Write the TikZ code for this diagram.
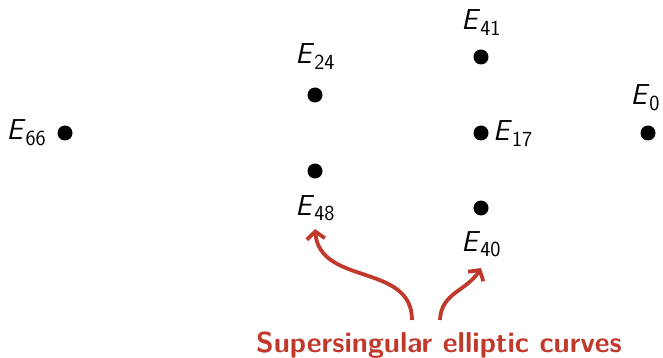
\documentclass[tikz,border=0pt]{standalone}
\usetikzlibrary{arrows.meta}
\definecolor{alertred}{RGB}{192,57,43}
% curve name: sans oblique letter with a lowered index
\newcommand\curvename[2]{\textit{#1}\raisebox{-0.19em}{\fontsize{21.5}{21.5}\selectfont #2}}
\tikzset{
  vertex/.style={circle, fill=black, inner sep=0pt, minimum size=15pt},
  curvelbl/.style={inner sep=0pt, font=\fontsize{28.8}{34}\selectfont\sffamily},
  alertline/.style={draw=alertred, line width=3.8pt,
    -{Straight Barb[length=7.5pt, width=18pt]}},
}
\begin{document}
\begin{tikzpicture}[x=1pt, y=-1pt]
  \useasboundingbox (0,0) rectangle (663,358);

  % vertices
  \node[vertex] (e66) at (65,133) {};
  \node[vertex] (e24) at (315,95) {};
  \node[vertex] (e48) at (315,171) {};
  \node[vertex] (e41) at (481,57) {};
  \node[vertex] (e17) at (481,133) {};
  \node[vertex] (e40) at (481,208) {};
  \node[vertex] (e0)  at (648,133) {};

  % vertex names
  \node[curvelbl, anchor=base east] (l66) at (46,140) {\curvename{E}{66}};
  \node[curvelbl, anchor=base]      (l24) at (315,64) {\curvename{E}{24}};
  \node[curvelbl, anchor=base]      (l48) at (315,215) {\curvename{E}{48}};
  \node[curvelbl, anchor=base]      (l41) at (481,30) {\curvename{E}{41}};
  \node[curvelbl, anchor=base west] (l17) at (493,141) {\curvename{E}{17}};
  \node[curvelbl, anchor=base]      (l40) at (481,251) {\curvename{E}{40}};
  \node[curvelbl, anchor=base]      (l0)  at (645,105) {\curvename{E}{0}};

  % caption and pointers
  \node[curvelbl, font=\fontsize{28.8}{34}\selectfont\sffamily\bfseries,
        text=alertred, anchor=base] (caption) at (439,352)
        {Supersingular elliptic curves};
  \coordinate (s1) at (412,320);
  \coordinate (s2) at (440,320);
  \coordinate (t1) at ([yshift=-8pt]l48.south);
  \coordinate (t2) at ([yshift=-11pt]l40.south);
  \draw[alertline] (s1) to[out=90, in=-85, looseness=1.1] (t1);
  \draw[alertline] (s2) to[out=88, in=-122, looseness=1.05] (t2);
\end{tikzpicture}
\end{document}
